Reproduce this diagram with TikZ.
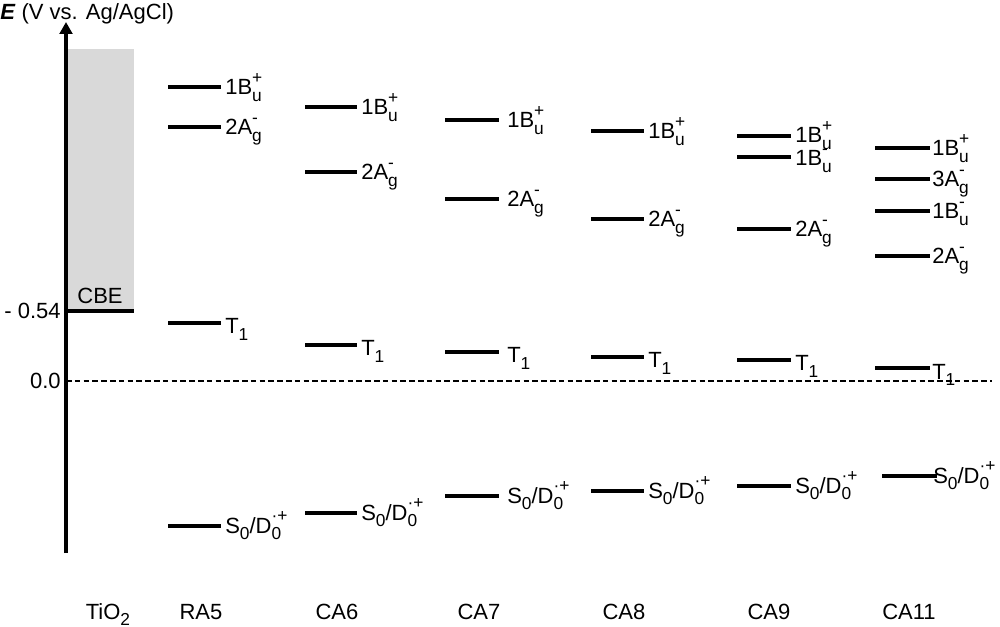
\documentclass[tikz,border=0pt]{standalone}
\usepackage{fontspec}
\setmainfont{Liberation Sans}
\usetikzlibrary{arrows.meta, calc, positioning}
\definecolor{cbgray}{RGB}{217,217,217}
\tikzset{
    lvl/.style={line width=2.6pt, black},
    axisline/.style={line width=2.6pt, -{Triangle[length=9pt, width=9.5pt]}},
    zeroline/.style={line width=1.7pt, dash pattern=on 4.2pt off 2.4pt},
    txt/.style={inner sep=0pt, font=\fontsize{16.5}{19}\selectfont},
    lvllab/.style={txt, anchor=base west},
    molname/.style={txt, anchor=base},
}
\newcommand{\sbs}[1]{\raisebox{-0.28em}{\fontsize{13}{13}\selectfont #1}}
\newcommand{\sps}[1]{\raisebox{0.52em}{\fontsize{13}{13}\selectfont #1}}
\newcommand{\supsub}[2]{\rlap{\sps{#1}}\sbs{#2}}
\newcommand{\lvlBp}{1B\supsub{+}{u}}
\newcommand{\lvlBm}{1B\supsub{-}{u}}
\newcommand{\lvlAm}{2A\supsub{-}{g}}
\newcommand{\lvlAAm}{3A\supsub{-}{g}}
\newcommand{\lvlT}{T\sbs{1}}
\newcommand{\lvlS}{S\sbs{0}/D\supsub{·+}{0}}

\begin{document}
\begin{tikzpicture}[x=0.75pt, y=-0.75pt]
    \useasboundingbox (0,0) rectangle (1000,627);
    % TiO2 band and axis
    \fill[cbgray] (67,49) rectangle (134,311);
    \coordinate (ax0) at (66,553);
    \coordinate (ax1) at (66,22);
    \coordinate (cbe-r) at (134,311);
    \coordinate (cbe-l) at (66,311);
    \coordinate (zero-l) at (66,381);
    \coordinate (zero-r) at (992,381);
    \draw[lvl] (cbe-l) -- (cbe-r);
    \draw[zeroline] (zero-l) -- (zero-r);
    \draw[axisline] (ax0) -- (ax1);
    \node[txt, anchor=base west] (elab) at (0,20) {\textbf{\textit{E}} (V vs. Ag/AgCl)};
    \node[txt, anchor=east] (tick1) at (61,311) {- 0.54};
    \node[txt, anchor=east] (tick0) at (61,381) {0.0};
    \node[txt] (cbe) at (100,296) {CBE};
    % energy levels
    \foreach \n/\xa/\xb/\y/\lx/\dy/\txt in {
        ra5b/168/221/87/225/8/\lvlBp, ra5a/168/221/127/225/8/\lvlAm,
        ra5t/168/221/323/225/11/\lvlT, ra5s/168/221/526/225/7/\lvlS,
        ca6b/305/357/107/361/8/\lvlBp, ca6a/305/357/172/361/8/\lvlAm,
        ca6t/305/357/345/361/11/\lvlT, ca6s/305/357/513/361/7/\lvlS,
        ca7b/445/499/120/507/8/\lvlBp, ca7a/445/499/199/507/8/\lvlAm,
        ca7t/445/499/352/507/11/\lvlT, ca7s/445/499/496/507/7/\lvlS,
        ca8b/591/644/131/648/8/\lvlBp, ca8a/591/644/219/648/8/\lvlAm,
        ca8t/591/644/357/648/11/\lvlT, ca8s/591/644/491/648/7/\lvlS,
        ca9b/737/791/136/795/7/\lvlBp, ca9m/737/791/157/795/9/\lvlBm,
        ca9a/737/791/229/795/8/\lvlAm,
        ca9t/737/791/360/795/11/\lvlT, ca9s/737/791/486/795/7/\lvlS,
        cbb/875/930/148/932/8/\lvlBp, cbaa/875/930/179/932/8/\lvlAAm,
        cbm/875/930/211/932/8/\lvlBm, cba/875/930/256/932/8/\lvlAm,
        cbt/875/930/368/932/11/\lvlT, cbs/882/937/476/933/7/\lvlS}{
        \coordinate (\n-l) at (\xa,\y);
        \coordinate (\n-r) at (\xb,\y);
        \draw[lvl] (\n-l) -- (\n-r);
        \node[lvllab] (\n) at (\lx,\y+\dy) {\txt};
    }
    % compound names
    \foreach \n/\x/\txt in {tio2/108/TiO\sbs{2}, ra5/201/RA5, ca6/337/CA6,
        ca7/479/CA7, ca8/624/CA8, ca9/769/CA9, ca11/909/CA11}{
        \node[molname] (name-\n) at (\x,619) {\txt};
    }
\end{tikzpicture}
\end{document}
